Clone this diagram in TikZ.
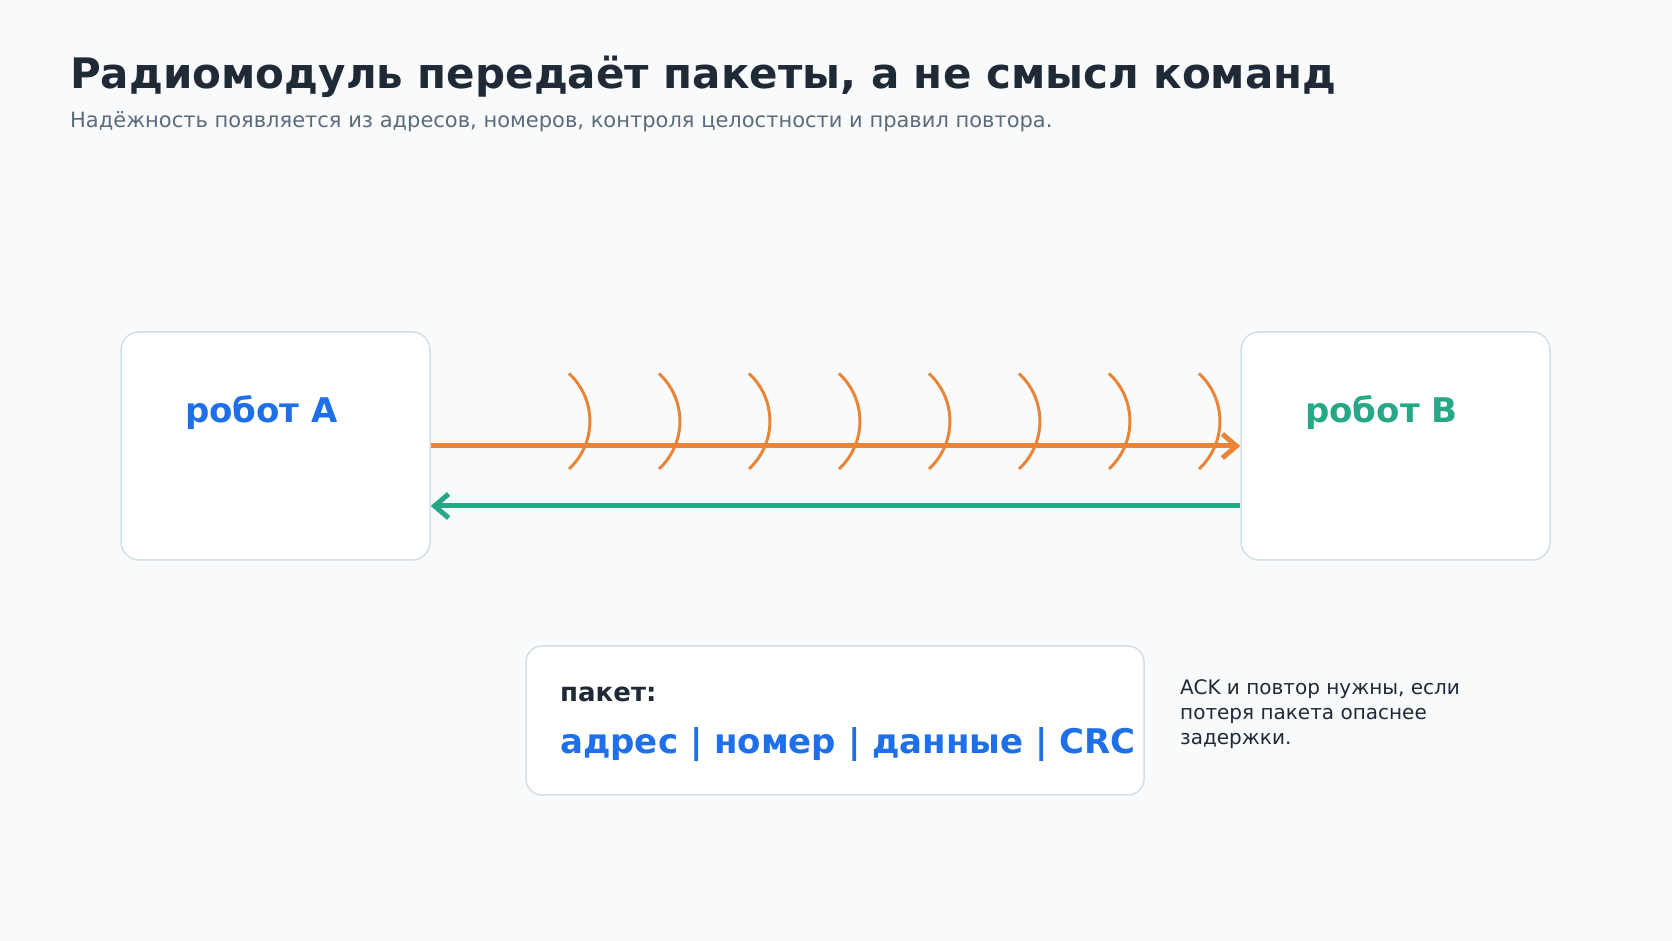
\documentclass[tikz,border=0pt]{standalone}
\usepackage{fontspec}
\setmainfont{DejaVu Sans}
\usetikzlibrary{arrows.meta}

\definecolor{bgpage}{HTML}{F8FAFC}
\definecolor{boxline}{HTML}{D5DEE7}
\definecolor{inkdark}{HTML}{1F2A36}
\definecolor{inkgray}{HTML}{5B6B7C}
\definecolor{robotblue}{HTML}{1E6FE8}
\definecolor{robotteal}{HTML}{26A886}
\definecolor{radioorange}{HTML}{EA8537}

\tikzset{
  txt/.style={anchor=base west, inner sep=0pt},
  robotbox/.style={draw=boxline, line width=1.5pt, fill=white, rounded corners=18pt,
    minimum width=309pt, minimum height=228pt, inner sep=0pt},
  packetbox/.style={draw=boxline, line width=1.5pt, fill=white, rounded corners=16pt,
    minimum width=618pt, minimum height=149pt, inner sep=0pt},
  robotlabel/.style={txt, font=\fontsize{34}{40}\selectfont\bfseries},
  wave/.style={radioorange, line width=3pt},
  signal/.style={line width=5pt, -{Straight Barb[length=14pt,width=24pt]}},
}

\begin{document}
\begin{tikzpicture}[x=1pt,y=1pt]
  \fill[bgpage] (0,0) rectangle (1672,941);
  \useasboundingbox (0,0) rectangle (1672,941);

  \node[txt, text=inkdark, font=\fontsize{42}{50}\selectfont\bfseries] (title) at (70,852)
    {Радиомодуль передаёт пакеты, а не смысл команд};
  \node[txt, text=inkgray, font=\fontsize{21}{25}\selectfont] (subtitle) at (70,813)
    {Надёжность появляется из адресов, номеров, контроля целостности и правил повтора.};

  \node[robotbox] (robotA) at (275.5,495) {};
  \node[robotbox] (robotB) at (1395.5,495) {};
  \node[robotlabel, text=robotblue] (labelA) at (185,518) {робот A};
  \node[robotlabel, text=robotteal] (labelB) at (1305,518) {робот B};

  \foreach \i in {0,...,7}
    \draw[wave] (569+90*\i,472) arc[start angle=-47.3, end angle=47.3, radius=65];

  \draw[signal, radioorange] (robotA.east) -- (robotB.west);
  \draw[signal, robotteal] ([yshift=-60pt]robotB.west) -- ([yshift=-60pt]robotA.east);

  \node[packetbox] (packet) at (835,220.5) {};
  \node[txt, text=inkdark, font=\fontsize{26}{30}\selectfont\bfseries] (packetname) at (560,239) {пакет:};
  \node[txt, text=robotblue, font=\fontsize{34}{40}\selectfont\bfseries] (packetfields) at (560,187)
    {адрес | номер | данные | CRC};

  \node[txt, align=left, text=inkdark, font=\fontsize{20}{25}\selectfont] (note) at (1180,196)
    {ACK и повтор нужны, если\\потеря пакета опаснее\\задержки.};
\end{tikzpicture}
\end{document}
